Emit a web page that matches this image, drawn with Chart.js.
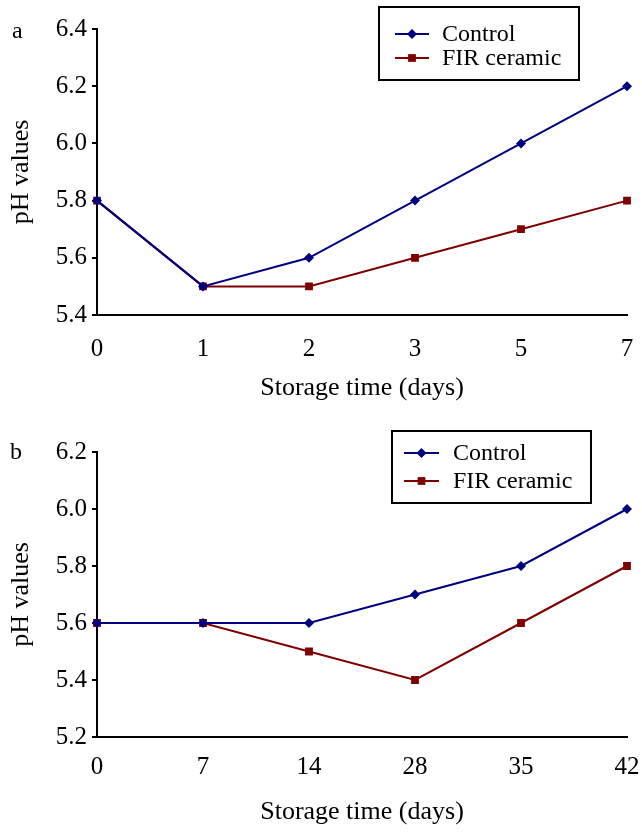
<!DOCTYPE html>
<html>
<head>
<meta charset="utf-8">
<script src="https://cdn.jsdelivr.net/npm/chart.js@4/dist/chart.umd.min.js"></script>
<style>
  html, body { margin: 0; padding: 0; background: #fff; }
  .wrap { position: relative; width: 642px; }
  #w1 { height: 420px; }
  #w2 { height: 412px; }
</style>
</head>
<body>
<div class="wrap" id="w1"><canvas id="c1"></canvas></div>
<div class="wrap" id="w2"><canvas id="c2"></canvas></div>
<script>
// data
var daysA = ["0", "1", "2", "3", "5", "7"],
    controlA = [5.8, 5.5, 5.6, 5.8, 6.0, 6.2],
    firA = [5.8, 5.5, 5.5, 5.6, 5.7, 5.8],

    daysB = ["0", "7", "14", "28", "35", "42"],
    controlB = [5.6, 5.6, 5.6, 5.7, 5.8, 6.0],
    firB = [5.6, 5.6, 5.5, 5.4, 5.6, 5.8];

var navy = "#00007f",
    maroon = "#7f0000",
    serif = "'Liberation Serif', 'Times New Roman', serif";

Chart.defaults.font.family = serif;
Chart.defaults.color = "#000";

// boxed legend + panel letter, drawn on top
var boxLegend = {
    id: "boxLegend",
    afterDraw: function(chart, args, o){
        var ctx = chart.ctx;
        ctx.save();
        ctx.fillStyle = "#fff";
        ctx.fillRect(o.x, o.y, o.w, o.h);
        ctx.strokeStyle = "#000";
        ctx.lineWidth = 2;
        ctx.strokeRect(o.x, o.y, o.w, o.h);
        ctx.font = "24px " + serif;
        ctx.textBaseline = "middle";
        chart.data.datasets.forEach(function(ds, i){
            var y = o.rowY[i];
            ctx.strokeStyle = ds.borderColor;
            ctx.lineWidth = 2;
            ctx.beginPath();
            ctx.moveTo(o.sx1, y);
            ctx.lineTo(o.sx2, y);
            ctx.stroke();
            ctx.fillStyle = ds.pointBackgroundColor;
            Chart.helpers.drawPoint(ctx, {pointStyle: ds.pointStyle, radius: ds.pointRadius, borderWidth: 0}, (o.sx1 + o.sx2) / 2, y);
            ctx.fillStyle = "#000";
            ctx.fillText(ds.label, o.tx, y + 1);
        });
        ctx.font = "24px " + serif;
        ctx.fillText(o.letter, o.lx, o.ly);
        ctx.restore();
    }
};

function makeChart(id, labels, ctrl, fir, yMin, yMax, xH, xPad, titlePadB, leg){
    return new Chart(document.getElementById(id), {
        type: "line",
        data: {
            labels: labels,
            datasets: [{
                label: "Control",
                data: ctrl,
                borderColor: navy,
                backgroundColor: navy,
                pointBackgroundColor: navy,
                pointBorderWidth: 0,
                pointStyle: "rectRot",
                pointRadius: 5,
                borderWidth: 2,
                tension: 0
            }, {
                label: "FIR ceramic",
                data: fir,
                borderColor: maroon,
                backgroundColor: maroon,
                pointBackgroundColor: maroon,
                pointBorderWidth: 0,
                pointStyle: "rect",
                pointRadius: 5.5,
                borderWidth: 2,
                tension: 0
            }]
        },
        options: {
            responsive: true,
            maintainAspectRatio: false,
            animation: false,
            layout: { padding: { top: leg.top, right: 15, left: 0, bottom: 0 } },
            plugins: {
                legend: { display: false },
                tooltip: { enabled: false },
                boxLegend: leg
            },
            scales: {
                x: {
                    offset: false,
                    grid: { display: false },
                    border: { color: "#000", width: 2 },
                    ticks: { font: { size: 25 }, padding: xPad, maxRotation: 0 },
                    title: { display: true, text: "Storage time (days)", font: { size: 26 }, padding: { top: 0, bottom: titlePadB } },
                    afterFit: function(s){ s.height = xH; s.paddingLeft = 0; s.paddingRight = 0; }
                },
                y: {
                    min: yMin,
                    max: yMax,
                    grid: { drawOnChartArea: false, drawTicks: true, tickLength: 5, color: "#000", lineWidth: 2 },
                    border: { color: "#000", width: 2 },
                    ticks: { stepSize: 0.2, font: { size: 25 }, padding: 5,
                        callback: function(v){ return v.toFixed(1); } },
                    title: { display: true, text: "pH values", font: { size: 26 }, padding: { top: 6, bottom: 0 } },
                    afterFit: function(s){ s.width = 97; s.paddingTop = 0; s.paddingBottom = 0; }
                }
            }
        },
        plugins: [boxLegend]
    });
}

makeChart("c1", daysA, controlA, firA, 5.4, 6.4, 105, 11, 16,
    { top: 29, x: 379, y: 7, w: 200, h: 73, sx1: 395, sx2: 429, tx: 442, rowY: [34, 58], letter: "a", lx: 12, ly: 32 });
makeChart("c2", daysB, controlB, firB, 5.2, 6.2, 95, 7, 4,
    { top: 32, x: 392, y: 11, w: 199, h: 72, sx1: 404, sx2: 439, tx: 453, rowY: [33, 61], letter: "b", lx: 10, ly: 33 });
</script>
</body>
</html>
